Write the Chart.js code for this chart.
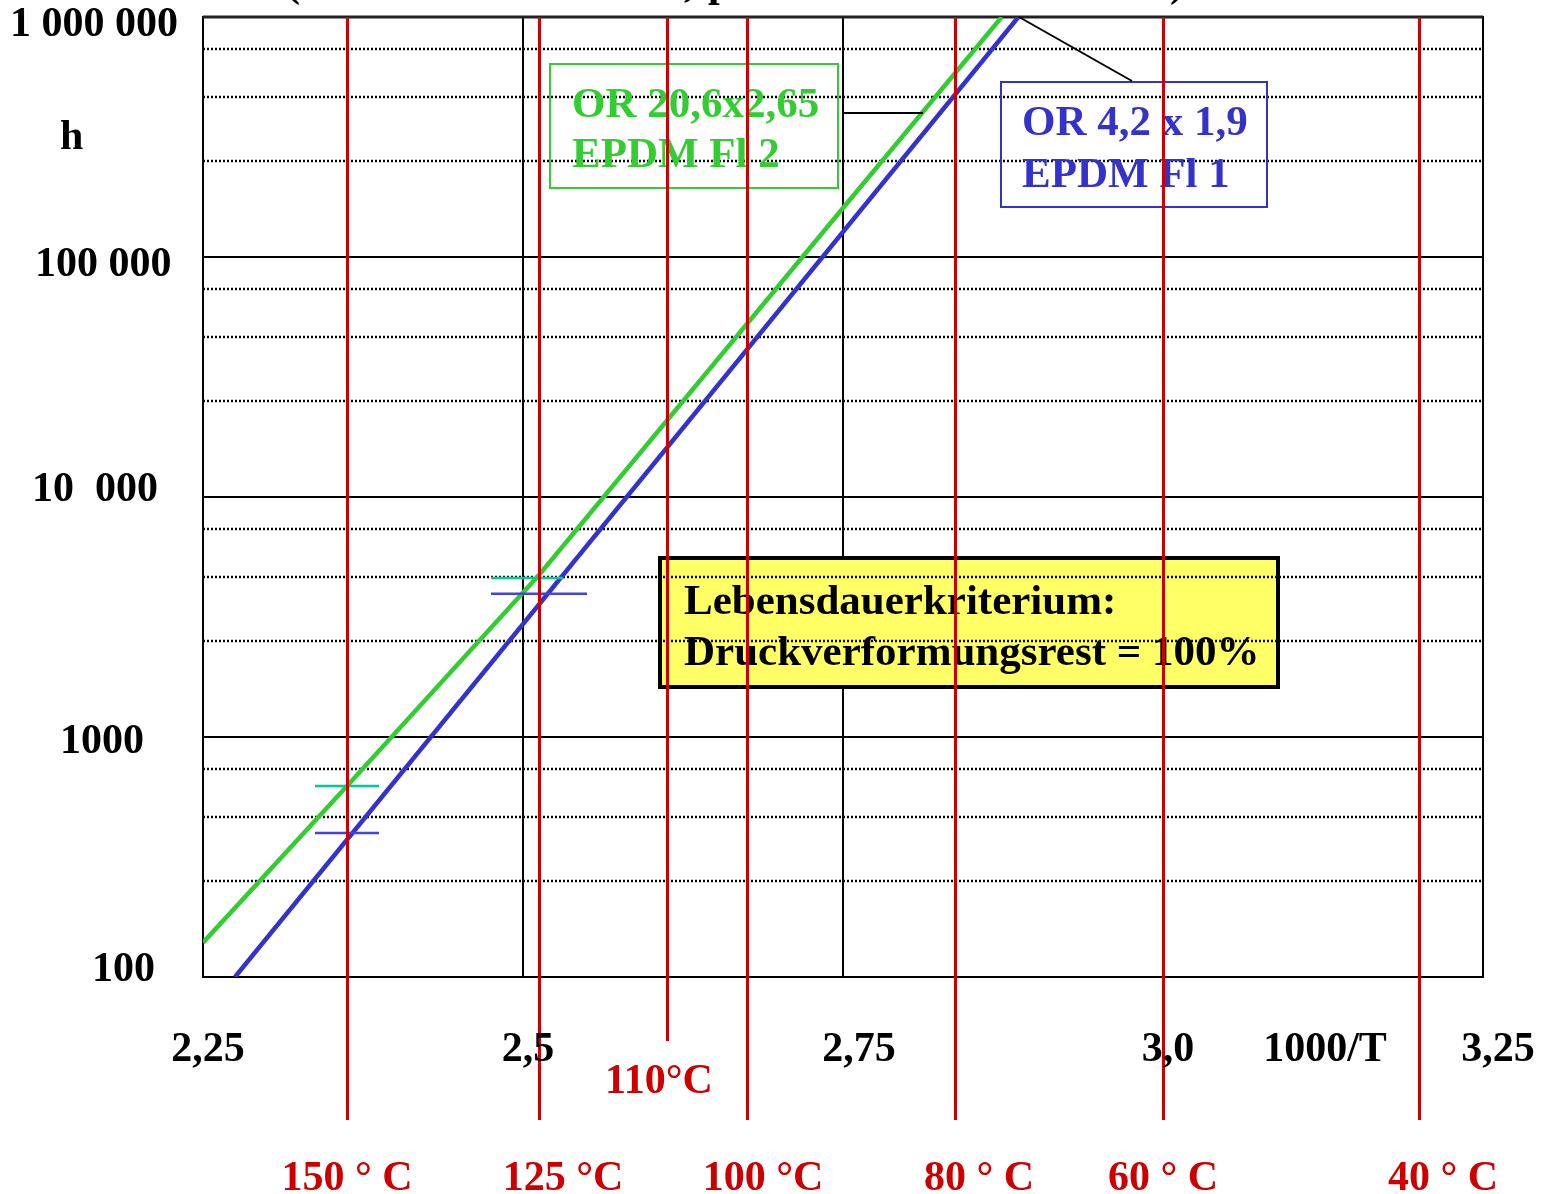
<!DOCTYPE html>
<html>
<head>
<meta charset="utf-8">
<script src="https://cdn.jsdelivr.net/npm/chart.js@4"></script>
<style>
  html, body { margin: 0; padding: 0; background: #fff; }
  canvas { display: block; }
</style>
</head>
<body>
<canvas id="chart" width="1546" height="1194"></canvas>
<script>
  // ===================== DATA =====================
  const xTickValues = [2.25, 2.5, 2.75, 3.0, 3.25];
  const xTickLabels = ["2,25", "2,5", "2,75", "3,0", "3,25"];
  const yTickValues = [1000000, 100000, 10000, 1000, 100];
  const yTickLabels = ["1 000 000", "100 000", "10  000", "1000", "100"];
  const minorFactors = [2.5, 4.64, 7.36];       // dotted lines inside each decade

  const tempLabels = ["150 ° C", "125 °C", "110°C", "100 °C", "80 ° C", "60 ° C", "40 ° C"];
  const tempX      = [2.3625, 2.5125, 2.6125, 2.675, 2.8375, 3.0, 3.2];

  // OR 20,6x2,65 EPDM Fl 2
  const greenX = [2.25, 2.3625, 2.5125, 2.75, 2.874];
  const greenY = [139, 625, 4730, 160000, 1000000];
  // OR 4,2 x 1,9 EPDM Fl 1
  const blueX = [2.275, 2.887];
  const blueY = [100, 1000000];

  // scatter bands (horizontal bars)
  const greenBarX = [[2.3375, 2.3875], [2.475, 2.5313]];
  const greenBarY = [625, 4600];
  const blueBarX  = [[2.3375, 2.3875], [2.475, 2.55]];
  const blueBarY  = [398, 3950];

  // ===================== STYLE =====================
  const FONT = "bold 42px 'Liberation Serif', 'Times New Roman', serif";
  const FONT_BOX = "bold 43px 'Liberation Serif', 'Times New Roman', serif";
  const RED = "#cc0000", GREEN = "#33cc33", BLUE = "#3333cc";

  const pts = (xs, ys) => xs.map((x, i) => ({ x, y: ys[i] }));
  const barSets = (xr, ys, color) => xr.map((r, i) => ({
    data: [{ x: r[0], y: ys[i] }, { x: r[1], y: ys[i] }],
    showLine: true, borderColor: color, borderWidth: 2.5, pointRadius: 0
  }));

  const decor = {
    id: "decor",
    beforeDatasetsDraw(chart) {
      const { ctx, chartArea: a, scales: { x, y } } = chart;
      ctx.save();
      // solid grid
      ctx.strokeStyle = "#000"; ctx.lineWidth = 2;
      [2.5, 2.75, 3.0].forEach(v => {
        const px = Math.round(x.getPixelForValue(v));
        ctx.beginPath(); ctx.moveTo(px, a.top); ctx.lineTo(px, a.bottom); ctx.stroke();
      });
      [1000, 10000, 100000].forEach(v => {
        const py = Math.round(y.getPixelForValue(v));
        ctx.beginPath(); ctx.moveTo(a.left, py); ctx.lineTo(a.right, py); ctx.stroke();
      });

      // yellow criterion box
      ctx.fillStyle = "#ffff66";
      ctx.fillRect(660, 558, 618, 129);
      ctx.lineWidth = 4; ctx.strokeStyle = "#000";
      ctx.strokeRect(660, 558, 618, 129);
      ctx.font = FONT_BOX; ctx.fillStyle = "#000"; ctx.textAlign = "left"; ctx.textBaseline = "alphabetic";
      ctx.fillText("Lebensdauerkriterium:", 684, 614);
      ctx.fillText("Druckverformungsrest = 100%", 684, 665);

      // dotted minor grid
      ctx.setLineDash([2, 2]); ctx.lineWidth = 2.5; ctx.strokeStyle = "#000";
      for (let d = 100; d < 1000000; d *= 10) {
        minorFactors.forEach(f => {
          const py = Math.round(y.getPixelForValue(d * f));
          ctx.beginPath(); ctx.moveTo(a.left, py); ctx.lineTo(a.right, py); ctx.stroke();
        });
      }
      ctx.setLineDash([]);

      // frame
      ctx.lineWidth = 2;
      ctx.strokeRect(a.left, a.top, a.right - a.left, a.bottom - a.top);
      ctx.lineWidth = 3; ctx.strokeStyle = "#222";
      ctx.beginPath(); ctx.moveTo(a.left, a.top); ctx.lineTo(a.right, a.top); ctx.stroke();

      // legend boxes
      ctx.lineWidth = 2;
      ctx.strokeStyle = GREEN; ctx.strokeRect(550, 64, 288, 124);
      ctx.fillStyle = GREEN;
      ctx.fillText("OR 20,6x2,65", 572, 117);
      ctx.fillText("EPDM Fl 2", 572, 167);
      ctx.strokeStyle = BLUE; ctx.strokeRect(1001, 82, 266, 125);
      ctx.fillStyle = BLUE;
      ctx.fillText("OR 4,2 x 1,9", 1022, 135);
      ctx.fillText("EPDM Fl 1", 1022, 187);
      ctx.restore();
    },
    afterDatasetsDraw(chart) {
      const { ctx, chartArea: a, scales: { x, y } } = chart;
      ctx.save();
      // leader lines
      ctx.strokeStyle = "#000"; ctx.lineWidth = 2;
      ctx.beginPath(); ctx.moveTo(843, 113); ctx.lineTo(923, 113); ctx.stroke();
      ctx.beginPath(); ctx.moveTo(1019, 17); ctx.lineTo(1132, 81); ctx.stroke();

      // temperature lines
      ctx.strokeStyle = RED; ctx.lineWidth = 3;
      tempX.forEach((v, i) => {
        const px = Math.round(x.getPixelForValue(v)) + 0.5;
        const end = tempLabels[i] === "110°C" ? 1041 : 1120;
        ctx.beginPath(); ctx.moveTo(px, a.top); ctx.lineTo(px, end); ctx.stroke();
      });

      ctx.font = FONT; ctx.textBaseline = "alphabetic";
      // temperature labels
      const tempCx = [347, 563, 659, 763, 979, 1163, 1443];
      ctx.fillStyle = RED; ctx.textAlign = "center";
      tempLabels.forEach((t, i) => {
        ctx.fillText(t, tempCx[i], t === "110°C" ? 1093 : 1190);
      });

      // x ticks
      ctx.fillStyle = "#000";
      const xDx = [5, 5, 16, 5, 15];
      xTickValues.forEach((v, i) => {
        ctx.fillText(xTickLabels[i], x.getPixelForValue(v) + xDx[i], 1061);
      });
      ctx.fillText("1000/T", 1325, 1061);

      // y ticks
      ctx.textAlign = "left";
      const yLeft = [10, 35, 32, 60, 92];
      const yDy = [19, 19, 4, 16, 4];
      yTickValues.forEach((v, i) => {
        ctx.fillText(yTickLabels[i], yLeft[i], y.getPixelForValue(v) + yDy[i]);
      });
      ctx.fillText("h", 60, 149);

      // clipped title remnants at the very top
      ctx.fillText("(", 286, -4);
      ctx.fillText(",", 684, -4);
      ctx.fillText("p", 708, -4);
      ctx.fillText(")", 1170, -4);
      ctx.restore();
    }
  };

  new Chart(document.getElementById("chart").getContext("2d"), {
    type: "scatter",
    data: {
      datasets: [
        ...barSets(greenBarX, greenBarY, "#00cc99"),
        ...barSets(blueBarX, blueBarY, "#4444dd"),
        { data: pts(greenX, greenY), showLine: true, borderColor: GREEN, borderWidth: 4.5, pointRadius: 0, tension: 0 },
        { data: pts(blueX, blueY), showLine: true, borderColor: BLUE, borderWidth: 4.5, pointRadius: 0, tension: 0 }
      ]
    },
    options: {
      responsive: false,
      animation: false,
      devicePixelRatio: 1,
      layout: { padding: { left: 203, top: 17, right: 63, bottom: 217 } },
      plugins: { legend: { display: false }, tooltip: { enabled: false } },
      scales: {
        x: { type: "linear", min: 2.25, max: 3.25, display: false },
        y: { type: "logarithmic", min: 100, max: 1000000, display: false }
      }
    },
    plugins: [decor]
  });
</script>
</body>
</html>
